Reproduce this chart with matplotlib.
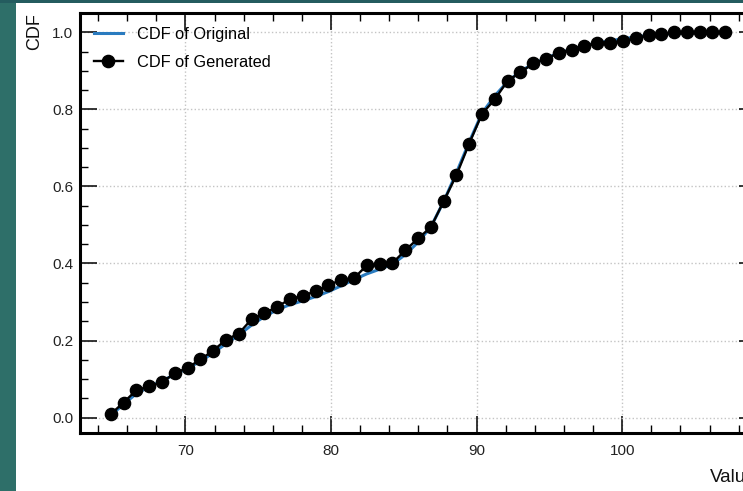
import numpy as np
import matplotlib
matplotlib.use("Agg")
import matplotlib.pyplot as plt
from matplotlib.patches import Rectangle
from matplotlib.ticker import MultipleLocator

plt.rcParams['font.family'] = ['Liberation Sans', 'DejaVu Sans']

values = [64.87, 65.75, 66.63, 67.51, 68.39, 69.27, 70.15, 71.03, 71.91, 72.79,
          73.66, 74.54, 75.42, 76.30, 77.18, 78.06, 78.94, 79.82, 80.70, 81.58,
          82.46, 83.34, 84.22, 85.10, 85.98, 86.86, 87.73, 88.61, 89.49, 90.37,
          91.25, 92.13, 93.01, 93.89, 94.77, 95.65, 96.53, 97.41, 98.29, 99.17,
          100.05, 100.93, 101.81, 102.68, 103.56, 104.44, 105.32, 106.20, 107.08]

cdf_generated = [0.009, 0.039, 0.071, 0.081, 0.092, 0.115, 0.129, 0.151, 0.174, 0.202,
                 0.218, 0.255, 0.271, 0.287, 0.308, 0.316, 0.328, 0.343, 0.358, 0.362,
                 0.395, 0.398, 0.401, 0.434, 0.465, 0.494, 0.561, 0.629, 0.711, 0.788,
                 0.826, 0.874, 0.896, 0.919, 0.931, 0.947, 0.955, 0.964, 0.973, 0.973,
                 0.977, 0.984, 0.993, 0.996, 1.000, 1.000, 1.000, 1.000, 1.000]

cdf_original = [0.005, 0.035, 0.062, 0.080, 0.095, 0.112, 0.128, 0.146, 0.168, 0.192,
                0.214, 0.240, 0.262, 0.280, 0.293, 0.303, 0.314, 0.327, 0.342, 0.358,
                0.373, 0.385, 0.398, 0.423, 0.455, 0.495, 0.560, 0.635, 0.715, 0.790,
                0.835, 0.872, 0.899, 0.918, 0.933, 0.946, 0.956, 0.965, 0.972, 0.978,
                0.983, 0.988, 0.992, 0.995, 0.997, 0.998, 0.999, 1.000, 1.000]

fig = plt.figure(figsize=(7.43, 4.91), dpi=100)
fig.patch.set_facecolor('#2e6f69')
fig.patches.append(Rectangle((0, 0.9939), 1, 0.0061, transform=fig.transFigure,
                             facecolor='#245c5f', edgecolor='none', zorder=-2))
fig.patches.append(Rectangle((16 / 743, 0), 1, 0.9939, transform=fig.transFigure,
                             facecolor='white', edgecolor='none', zorder=-1))

ax = fig.add_axes([80 / 743, 1 - 433 / 491, (756 - 80) / 743, (433 - 13) / 491])

ax.plot(values, cdf_original, color='#2a7bbf', lw=2.2, label='CDF of Original', zorder=2)
ax.plot(values, cdf_generated, color='black', lw=1.7, marker='o', markersize=8.8,
        label='CDF of Generated', zorder=3)

ax.set_xlim(62.76, 109.19)
ax.set_ylim(-0.04, 1.05)

ax.xaxis.set_major_locator(MultipleLocator(10))
ax.xaxis.set_minor_locator(MultipleLocator(2))
ax.yaxis.set_major_locator(MultipleLocator(0.2))
ax.yaxis.set_minor_locator(MultipleLocator(0.05))

ax.tick_params(which='both', direction='in', top=True, right=True, labelsize=11,
               colors='black', labelcolor='#222222')
ax.tick_params(which='major', length=12.5, width=1.1)
ax.tick_params(which='minor', length=5.8, width=1.0)
ax.tick_params(axis='x', which='major', pad=8)
ax.tick_params(axis='y', which='major', pad=5)

for s in ax.spines.values():
    s.set_linewidth(2.2)
    s.set_color('black')

ax.grid(True, which='major', linestyle=':', color='#c4c4c4', linewidth=1.0)
ax.set_axisbelow(True)

ax.set_xlabel('Value', loc='right', fontsize=13.5, color='#111111', labelpad=8)
ax.set_ylabel('CDF', loc='top', fontsize=13, color='#111111', labelpad=6)

leg = ax.legend(loc='upper left', frameon=False, fontsize=11.8, handlelength=1.75,
                borderaxespad=0.45, labelspacing=0.8, handletextpad=0.9)

fig.savefig('out.png', dpi=100, facecolor=fig.get_facecolor())
